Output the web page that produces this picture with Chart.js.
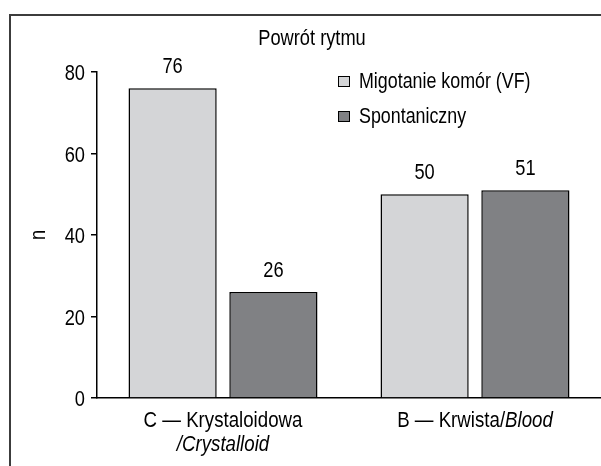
<!DOCTYPE html>
<html>
<head>
<meta charset="utf-8">
<script src="https://cdn.jsdelivr.net/npm/chart.js@4/dist/chart.umd.min.js"></script>
<style>
  html, body { margin: 0; padding: 0; background: #fff; }
  #wrap { width: 601px; height: 466px; position: relative; }
</style>
</head>
<body>
<div id="wrap"><canvas id="chart" width="601" height="466"></canvas></div>
<script>
const categories = ['C', 'B'];
const seriesNames = ['Migotanie komór (VF)', 'Spontaniczny'];
const vfValues = [76, 50];
const spontValues = [26, 51];
const yTicks = [0, 20, 40, 60, 80];
const chartTitle = 'Powrót rytmu';
const yTitle = 'n';
// each label: lines, each line: [text, italic]
const categoryLabels = [
  [[['C — Krystaloidowa', false]], [['/Crystalloid', true]]],
  [[['B — Krwista/', false], ['Blood', true]]]
];

const FONT = '"Liberation Sans", Arial, sans-serif';
const SX = 0.83; // horizontal squeeze, the original uses a condensed face
const lightGray = '#d4d5d7';
const darkGray = '#808184';
const ink = '#000';

function fontOf(size, italic) {
  return `${italic ? 'italic ' : ''}${size}px ${FONT}`;
}

function textWidth(ctx, text, size, italic) {
  ctx.font = fontOf(size, italic);
  return ctx.measureText(text).width * SX;
}

// draws narrow text, x is the anchor given by align
function narrowText(ctx, text, x, y, size, align = 'left', italic = false) {
  ctx.save();
  ctx.font = fontOf(size, italic);
  ctx.textAlign = align;
  ctx.textBaseline = 'alphabetic';
  ctx.fillStyle = ink;
  ctx.translate(x, y);
  ctx.scale(SX, 1);
  ctx.fillText(text, 0, 0);
  ctx.restore();
}

const extras = {
  id: 'extras',
  beforeDraw(chart) {
    const ctx = chart.ctx;
    ctx.save();
    // outer frame (top + left)
    ctx.strokeStyle = '#3c3c3c';
    ctx.lineWidth = 2;
    ctx.beginPath();
    ctx.moveTo(10, 466);
    ctx.lineTo(10, 15);
    ctx.lineTo(601, 15);
    ctx.stroke();
    ctx.restore();
  },
  afterDraw(chart) {
    const ctx = chart.ctx;
    const x = chart.scales.x;
    const y = chart.scales.y;

    // title
    narrowText(ctx, chartTitle, 312, 45, 22, 'center');

    // y tick labels
    y.ticks.forEach((t) => {
      narrowText(ctx, String(t.value), 85, y.getPixelForValue(t.value) + 8, 22, 'right');
    });

    // y title, rotated
    ctx.save();
    ctx.translate(40, (chart.chartArea.top + chart.chartArea.bottom) / 2);
    ctx.rotate(-Math.PI / 2);
    narrowText(ctx, yTitle, 0, 5, 22, 'center');
    ctx.restore();

    // value labels
    chart.data.datasets.forEach((ds, di) => {
      chart.getDatasetMeta(di).data.forEach((bar, i) => {
        narrowText(ctx, String(ds.data[i]), bar.x, bar.y - 15, 22, 'center');
      });
    });

    // legend
    const boxTop = [76, 111];
    const textBase = [88, 123];
    chart.data.datasets.forEach((ds, di) => {
      ctx.save();
      ctx.fillStyle = ds.backgroundColor;
      ctx.fillRect(338, boxTop[di], 12, 11);
      ctx.strokeStyle = '#000';
      ctx.lineWidth = 1;
      ctx.strokeRect(338.5, boxTop[di] + 0.5, 11, 10);
      ctx.restore();
      narrowText(ctx, ds.label, 359, textBase[di], 21.5);
    });

    // category labels with mixed styles
    const baselines = [427, 451];
    categoryLabels.forEach((lines, i) => {
      const cx = x.getPixelForValue(i);
      lines.forEach((parts, li) => {
        let total = 0;
        parts.forEach(([t, it]) => { total += textWidth(ctx, t, 22.5, it); });
        let px = cx - total / 2;
        parts.forEach(([t, it]) => {
          narrowText(ctx, t, px, baselines[li], 22.5, 'left', it);
          px += textWidth(ctx, t, 22.5, it);
        });
      });
    });
  }
};

new Chart(document.getElementById('chart'), {
  type: 'bar',
  data: {
    labels: categories,
    datasets: [
      {
        label: seriesNames[0],
        data: vfValues,
        backgroundColor: lightGray,
        borderColor: '#000',
        borderWidth: 1.5
      },
      {
        label: seriesNames[1],
        data: spontValues,
        backgroundColor: darkGray,
        borderColor: '#000',
        borderWidth: 1.5
      }
    ]
  },
  options: {
    responsive: false,
    animation: false,
    datasets: {
      bar: {
        categoryPercentage: 0.8,
        barPercentage: 0.875
      }
    },
    layout: {
      padding: { top: 72, right: 0, bottom: 0, left: 0 }
    },
    plugins: {
      legend: { display: false },
      tooltip: { enabled: false },
      title: { display: false }
    },
    scales: {
      x: {
        grid: { display: false },
        border: { color: '#000', width: 1.5 },
        ticks: { display: false },
        afterFit(scale) {
          scale.height = 68;
        }
      },
      y: {
        min: 0,
        max: 80,
        afterBuildTicks(scale) {
          scale.ticks = yTicks.map((v) => ({ value: v }));
        },
        grid: {
          drawOnChartArea: false,
          drawTicks: true,
          tickLength: 6,
          color: '#000',
          lineWidth: 1.5
        },
        border: { color: '#000', width: 1.5 },
        ticks: { display: false },
        afterFit(scale) {
          scale.width = 97;
        }
      }
    }
  },
  plugins: [extras]
});
</script>
</body>
</html>
